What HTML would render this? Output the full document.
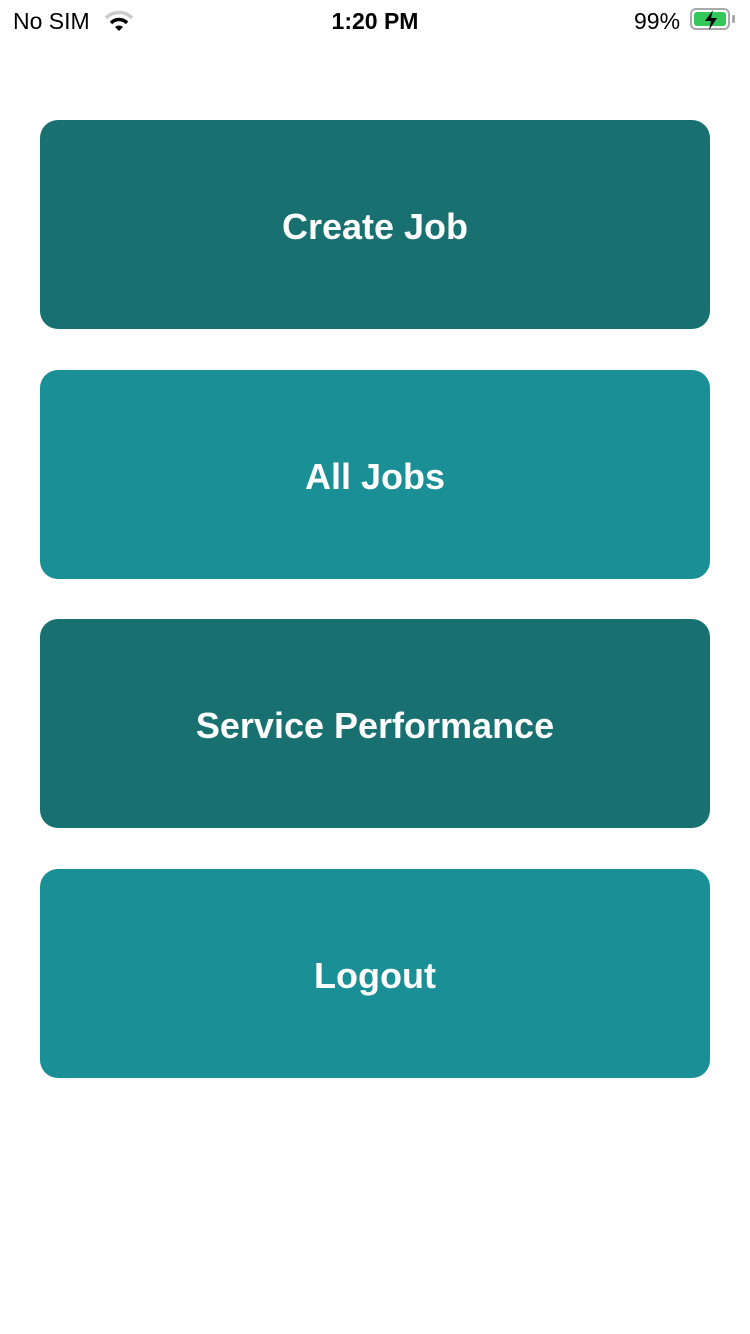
<!DOCTYPE html>
<html><head><style>
body{margin:0;width:750px;height:1334px;background:#fff;font-family:"Liberation Sans",sans-serif;position:relative;overflow:hidden}
.sb{position:absolute;top:8px;font-size:23px;color:#000}
.btn{position:absolute;left:40px;width:670px;height:209px;border-radius:18px;color:#fff;font-weight:bold;font-size:36px;display:flex;align-items:center;justify-content:center;box-sizing:border-box;padding-top:5px}
.d{background:#187070}.l{background:#1a8f96}
</style></head><body>
<div class="sb" style="left:13px">No SIM</div>
<svg style="position:absolute;left:104px;top:10px" width="30" height="22" viewBox="0 0 30 22">
<path d="M2 8 A18 18 0 0 1 28 8" stroke="#ccc" stroke-width="3.5" fill="none"/>
<path d="M7 13 A11 11 0 0 1 23 13" stroke="#000" stroke-width="3.5" fill="none"/>
<path d="M11 17 L15 21 L19 17 A6 6 0 0 0 11 17Z" fill="#000"/>
</svg>
<div class="sb" style="left:0;width:750px;text-align:center;font-weight:bold">1:20 PM</div>
<div class="sb" style="left:634px">99%</div>
<div style="position:absolute;left:690px;top:8px;width:40px;height:22px;border:2px solid #aaa;border-radius:6px;box-sizing:border-box;padding:2px">
<div style="width:100%;height:100%;background:#34c759;border-radius:3px"></div></div>
<div style="position:absolute;left:732px;top:15px;width:3px;height:8px;background:#aaa;border-radius:1px"></div>
<svg style="position:absolute;left:700px;top:9px" width="22" height="22" viewBox="0 0 22 22"><path d="M13 1 L5 12 H11 L9 21 L17 9 H11 Z" fill="#000"/></svg>
<div class="btn d" style="top:120px">Create Job</div>
<div class="btn l" style="top:370px">All Jobs</div>
<div class="btn d" style="top:619px">Service Performance</div>
<div class="btn l" style="top:869px">Logout</div>
</body></html>
